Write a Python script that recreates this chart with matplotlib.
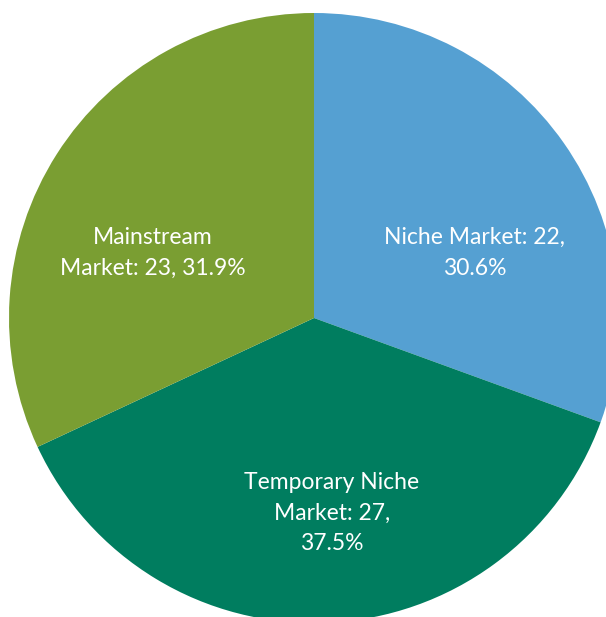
import matplotlib
matplotlib.use("Agg")
import matplotlib.pyplot as plt

# market segments, clockwise from the top
labels = ["Niche Market", "Temporary Niche\nMarket", "Mainstream\nMarket"]
counts = [22, 27, 23]
shares = ["30.6%", "37.5%", "31.9%"]
colors = ["#55A0D2", "#007D5F", "#7A9E32"]

# label text anchors in pixel coords (x, y from top)
label_pos = [(475, 253), (332, 513), (153, 253)]
label_text = [
    "Niche Market: 22,\n30.6%",
    "Temporary Niche\nMarket: 27,\n37.5%",
    "Mainstream\nMarket: 23, 31.9%",
]

W, H = 606, 617
fig = plt.figure(figsize=(W / 100, H / 100), dpi=100)
ax = fig.add_axes([0, 0, 1, 1])

cx, cy, r = 314, H - 318, 305
ax.pie(counts, colors=colors, startangle=90, counterclock=False,
       center=(cx, cy), radius=r, frame=True,
       wedgeprops=dict(linewidth=0))
ax.set_xlim(0, W)
ax.set_ylim(0, H)
ax.set_aspect("equal")
ax.axis("off")

for (x, y), t in zip(label_pos, label_text):
    ax.text(x, H - y, t, ha="center", va="center", color="white",
            fontsize=16.5, linespacing=1.55, family=["Lato", "DejaVu Sans"])

fig.savefig("out.png", dpi=100)
